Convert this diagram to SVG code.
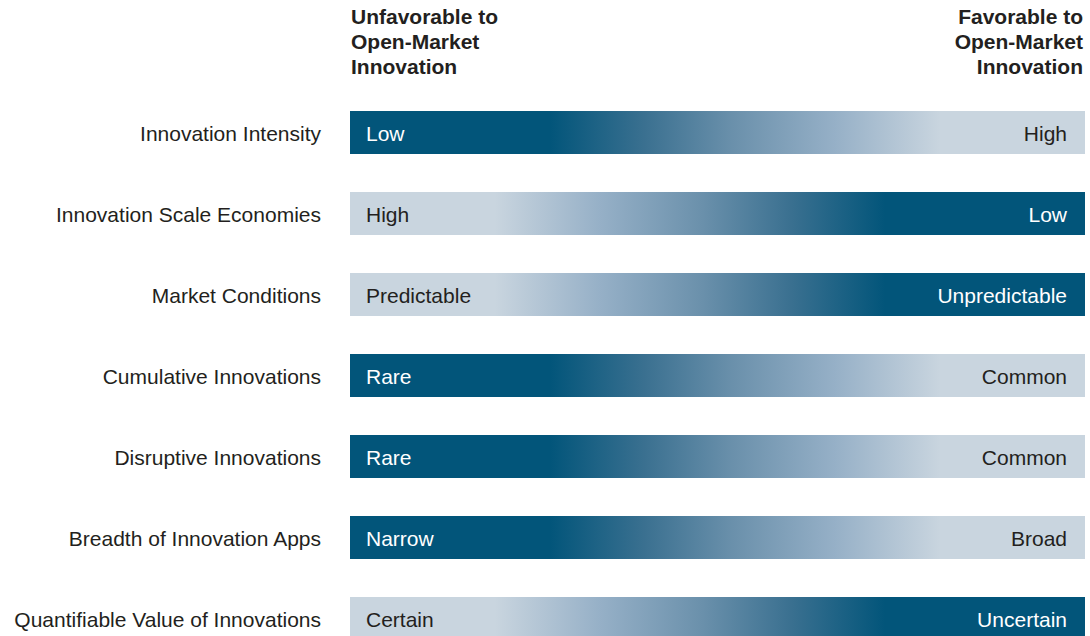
<svg xmlns="http://www.w3.org/2000/svg" width="1090" height="636" viewBox="0 0 1090 636">
  <style>
    .hd { font-family: "Liberation Sans", Arial, sans-serif; font-size: 21px; font-weight: bold; fill: #231f20; }
    .lbl { font-family: "Liberation Sans", Arial, sans-serif; font-size: 21px; fill: #231f20; text-anchor: end; }
    .val { font-family: "Liberation Sans", Arial, sans-serif; font-size: 21px; }
    .lt { fill: #ffffff; }
    .dk { fill: #231f20; }
    .end { text-anchor: end; }
  </style>
  <defs>
    <!-- dark on the left, fading to pale on the right -->
    <linearGradient id="darkToLight" x1="350" y1="0" x2="1085" y2="0" gradientUnits="userSpaceOnUse">
      <stop offset="0" stop-color="#02557a"/>
      <stop offset="0.272" stop-color="#02557a"/>
      <stop offset="0.40" stop-color="#3a7090"/>
      <stop offset="0.52" stop-color="#6a90ab"/>
      <stop offset="0.66" stop-color="#96b0c7"/>
      <stop offset="0.803" stop-color="#c9d5df"/>
      <stop offset="1" stop-color="#c9d5df"/>
    </linearGradient>
    <!-- pale on the left, deepening to dark on the right -->
    <linearGradient id="lightToDark" x1="350" y1="0" x2="1085" y2="0" gradientUnits="userSpaceOnUse">
      <stop offset="0" stop-color="#c9d5df"/>
      <stop offset="0.197" stop-color="#c9d5df"/>
      <stop offset="0.34" stop-color="#96b0c7"/>
      <stop offset="0.48" stop-color="#6a90ab"/>
      <stop offset="0.60" stop-color="#3a7090"/>
      <stop offset="0.728" stop-color="#02557a"/>
      <stop offset="1" stop-color="#02557a"/>
    </linearGradient>
  </defs>

  <!-- column headings -->
  <g id="heading-unfavorable">
    <text class="hd" x="351" y="24">Unfavorable to</text>
    <text class="hd" x="351" y="49">Open-Market</text>
    <text class="hd" x="351" y="74">Innovation</text>
  </g>
  <g id="heading-favorable">
    <text class="hd end" x="1083" y="24">Favorable to</text>
    <text class="hd end" x="1083" y="49">Open-Market</text>
    <text class="hd end" x="1083" y="74">Innovation</text>
  </g>

  <!-- one row per factor: label, gradient bar, end values -->
  <g id="row-intensity">
    <text class="lbl" x="321" y="141">Innovation Intensity</text>
    <rect x="350" y="111" width="735" height="43" fill="url(#darkToLight)"/>
    <text class="val lt" x="366" y="141">Low</text>
    <text class="val dk end" x="1067" y="141">High</text>
  </g>
  <g id="row-scale">
    <text class="lbl" x="321" y="222">Innovation Scale Economies</text>
    <rect x="350" y="192" width="735" height="43" fill="url(#lightToDark)"/>
    <text class="val dk" x="366" y="222">High</text>
    <text class="val lt end" x="1067" y="222">Low</text>
  </g>
  <g id="row-market">
    <text class="lbl" x="321" y="303">Market Conditions</text>
    <rect x="350" y="273" width="735" height="43" fill="url(#lightToDark)"/>
    <text class="val dk" x="366" y="303">Predictable</text>
    <text class="val lt end" x="1067" y="303">Unpredictable</text>
  </g>
  <g id="row-cumulative">
    <text class="lbl" x="321" y="384">Cumulative Innovations</text>
    <rect x="350" y="354" width="735" height="43" fill="url(#darkToLight)"/>
    <text class="val lt" x="366" y="384">Rare</text>
    <text class="val dk end" x="1067" y="384">Common</text>
  </g>
  <g id="row-disruptive">
    <text class="lbl" x="321" y="465">Disruptive Innovations</text>
    <rect x="350" y="435" width="735" height="43" fill="url(#darkToLight)"/>
    <text class="val lt" x="366" y="465">Rare</text>
    <text class="val dk end" x="1067" y="465">Common</text>
  </g>
  <g id="row-breadth">
    <text class="lbl" x="321" y="546">Breadth of Innovation Apps</text>
    <rect x="350" y="516" width="735" height="43" fill="url(#darkToLight)"/>
    <text class="val lt" x="366" y="546">Narrow</text>
    <text class="val dk end" x="1067" y="546">Broad</text>
  </g>
  <g id="row-value">
    <text class="lbl" x="321" y="627">Quantifiable Value of Innovations</text>
    <rect x="350" y="597" width="735" height="43" fill="url(#lightToDark)"/>
    <text class="val dk" x="366" y="627">Certain</text>
    <text class="val lt end" x="1067" y="627">Uncertain</text>
  </g>

  <!-- no connectors in this chart -->
  <g id="connectors"/>
</svg>
